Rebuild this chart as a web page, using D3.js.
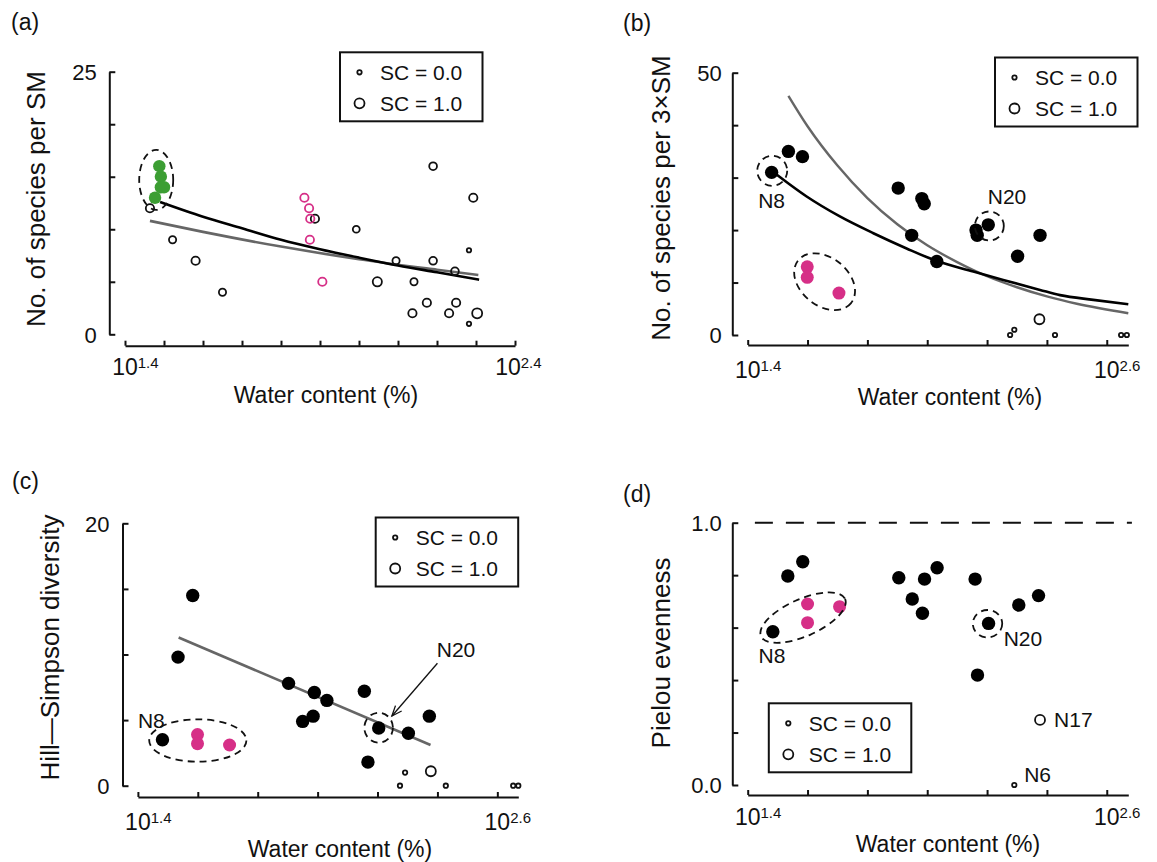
<!DOCTYPE html>
<html><head><meta charset="utf-8">
<script src="https://cdn.jsdelivr.net/npm/d3@7"></script>
<style>
body{margin:0;background:#fff}
svg{display:block}
text{font-family:"Liberation Sans",Arial,Helvetica,sans-serif;fill:#111}
</style>
</head><body>
<script>
// ---------------- DATA ----------------
// x values are log10(water content %)
const xTicksA = [1.4,1.5,1.6,1.7,1.8,1.9,2.0,2.1,2.2,2.3,2.4];
const xTickLabelsA = ["1.4","2.4"];
const xTicksBCD = [1.4,1.6,1.8,2.0,2.2,2.4,2.6];
const xTickLabelsBCD = ["1.4","2.6"];
const yTicksA = [0,5,10,15,20,25];   const yTickLabelsA = ["0","25"];
const yTicksB = [0,10,20,30,40,50];  const yTickLabelsB = ["0","50"];
const yTicksC = [0,5,10,15,20];      const yTickLabelsC = ["0","20"];
const yTicksD = [0,0.2,0.4,0.6,0.8,1.0]; const yTickLabelsD = ["0.0","1.0"];
const legendLabels = ["SC = 0.0","SC = 1.0"];
const legendSC = [0,1];

// Panel (a)
const aOpenX  = [1.464,1.522,1.581,1.650,1.887,1.993,2.047,2.095,2.141,2.137,2.174,2.190,2.190,2.231,2.246,2.249,2.282,2.282,2.293,2.303];
const aOpenY  = [12,9,7,4,11,10,5,7,5,2,3,16,7,2,6,3,8,1,13,2];
const aOpenSC = [0.7,0.5,0.7,0.5,0.7,0.45,0.85,0.5,0.5,0.7,0.7,0.6,0.6,0.7,0.6,0.7,0,0,0.7,1.0];
const aPinkX  = [1.860,1.872,1.875,1.874,1.906];
const aPinkY  = [13,12,11,9,5];
const aPinkSC = [0.7,0.7,0.7,0.7,0.7];
const aGreenX = [1.488,1.492,1.492,1.500,1.477];
const aGreenY = [16,15,14,14,13];
const aFitBlackX = [1.490,1.6,1.7,1.8,1.9,2.0,2.1,2.2,2.308];
const aFitBlackY = [12.6,11.2,10.1,9.0,8.1,7.3,6.55,5.9,5.2];
const aFitGrayX  = [1.464,1.6,1.8,2.0,2.2,2.306];
const aFitGrayY  = [10.8,9.75,8.35,7.15,6.15,5.65];

// Panel (b)
const bBlackX = [1.480,1.536,1.583,1.903,1.982,1.990,1.948,2.032,2.163,2.167,2.204,2.302,2.377];
const bBlackY = [31,35,34,28,26,25,19,14,20,19,21,15,19];
const bPinkX  = [1.599,1.599,1.705];
const bPinkY  = [13,11,8];
const bOpenX  = [2.277,2.291,2.375,2.427,2.648,2.667];
const bOpenY  = [0,1,3,0,0,0];
const bOpenSC = [0,0,1,0,0,0];
const bFitBlackX = [1.480,1.597,1.708,1.820,1.931,2.032,2.154,2.254,2.377,2.444,2.555,2.672];
const bFitBlackY = [31.3,26.4,22.6,19.4,16.5,14.1,12.1,10.5,8.6,7.6,6.7,5.85];
const bFitGrayX  = [1.536,1.6,1.7,1.8,1.9,2.0,2.1,2.2,2.3,2.4,2.5,2.672];
const bFitGrayY  = [45.6,39.8,32.3,26.1,21.1,17.1,13.9,11.2,9.1,7.35,5.95,4.15];

// Panel (c)
const cBlackX = [1.583,1.534,1.482,1.903,1.989,2.031,1.950,1.985,2.156,2.168,2.204,2.303,2.373];
const cBlackY = [14.5,9.8,3.5,7.8,7.1,6.5,4.9,5.3,7.2,1.8,4.4,4.0,5.3];
const cPinkX  = [1.599,1.599,1.706];
const cPinkY  = [3.9,3.2,3.1];
const cOpenX  = [2.275,2.292,2.378,2.428,2.653,2.670];
const cOpenY  = [0,1,1.1,0,0,0];
const cOpenSC = [0,0,1,0,0,0];
const cFitX = [1.536,2.377];
const cFitY = [11.3,3.1];

// Panel (d)
const dBlackX = [1.484,1.534,1.584,1.905,1.950,1.991,1.984,2.033,2.160,2.168,2.205,2.306,2.372];
const dBlackY = [0.584,0.797,0.851,0.790,0.709,0.785,0.655,0.828,0.785,0.419,0.616,0.686,0.722];
const dPinkX  = [1.600,1.600,1.707];
const dPinkY  = [0.690,0.619,0.680];
const dOpenX  = [2.377,2.291];
const dOpenY  = [0.248,0.0];
const dOpenSC = [1,0];
const dRefLineX = [1.424,2.684];
const dRefLineY = [1.0,1.0];

// ---------------- STYLE / LAYOUT ----------------
const FONT = '"Liberation Sans", Arial, Helvetica, sans-serif';
const PINK = "#d62f87", GREEN = "#3c9e33", GRAY = "#666666";
const rSC = d3.scaleLinear().domain([0,1]).range([2.2,5.0]);

const svg = d3.select("body").append("svg").attr("width",1157).attr("height",862);

const layouts = {
  a:{xDom:[1.4,2.4],xRange:[125,515],yDom:[0,25],yRange:[334.3,71.7],yAxisX:109.3,xAxisY:345.7,
     xTicks:xTicksA,xLabVals:[1.4,2.4],xLabs:xTickLabelsA,xLabShift:[0,-7],xLabDy:29,
     yTicks:yTicksA,yLabVals:[0,25],yLabs:yTickLabelsA,yPad:12.6,
     yTitle:"No. of species per SM",yTitleX:45,yTitleY:199,xTitleX:326,xTitleY:403,
     tag:"(a)",tagX:11,tagY:30,legX:340,legY:52.3},
  b:{xDom:[1.4,2.672],xRange:[747.7,1128.3],yDom:[0,50],yRange:[335,72.7],yAxisX:732.3,xAxisY:345,
     xTicks:xTicksBCD,xLabVals:[1.4,2.6],xLabs:xTickLabelsBCD,xLabShift:[0,0],xLabDy:33,
     yTicks:yTicksB,yLabVals:[0,50],yLabs:yTickLabelsB,yPad:10.5,
     yTitle:"No. of species per 3×SM",yTitleX:670,yTitleY:198,xTitleX:950,xTitleY:405,
     tag:"(b)",tagX:623,tagY:31,legX:995,legY:57.5},
  c:{xDom:[1.4,2.670],xRange:[137.9,518.3],yDom:[0,20],yRange:[785.7,523.3],yAxisX:122.5,xAxisY:797,
     xTicks:xTicksBCD,xLabVals:[1.4,2.6],xLabs:xTickLabelsBCD,xLabShift:[0,0],xLabDy:33,
     yTicks:yTicksC,yLabVals:[0,20],yLabs:yTickLabelsC,yPad:13,
     yTitle:"Hill\u2014Simpson diversity",yTitleX:59,yTitleY:647.5,xTitleX:340,xTitleY:857,
     tag:"(c)",tagX:12,tagY:489,legX:375.7,legY:517.5},
  d:{xDom:[1.4,2.672],xRange:[747.7,1128.3],yDom:[0,1],yRange:[785,522.7],yAxisX:732.3,xAxisY:795,
     xTicks:xTicksBCD,xLabVals:[1.4,2.6],xLabs:xTickLabelsBCD,xLabShift:[0,0],xLabDy:30,
     yTicks:yTicksD,yLabVals:[0,1],yLabs:yTickLabelsD,yPad:10.5,
     yTitle:"Pielou evenness",yTitleX:670,yTitleY:653,xTitleX:948,xTitleY:852,
     tag:"(d)",tagX:623,tagY:502,legX:768.8,legY:703.3}
};

function panel(L){
  const x = d3.scaleLinear().domain(L.xDom).range(L.xRange);
  const y = d3.scaleLinear().domain(L.yDom).range(L.yRange);
  const g = svg.append("g");
  // y axis
  const ya = g.append("g").attr("transform",`translate(${L.yAxisX},0)`)
    .call(d3.axisLeft(y).tickValues(L.yTicks).tickSizeInner(-6).tickSizeOuter(0).tickPadding(L.yPad)
      .tickFormat(d=>{const i=L.yLabVals.findIndex(v=>Math.abs(v-d)<1e-9);return i>=0?L.yLabs[i]:"";}));
  ya.attr("font-family",FONT).attr("font-size",22);
  ya.selectAll("line,path").attr("stroke","#111").attr("stroke-width",2);
  ya.selectAll("text").attr("fill","#111").attr("dy","0.35em");
  // x axis
  const xa = g.append("g").attr("transform",`translate(0,${L.xAxisY})`)
    .call(d3.axisBottom(x).tickValues(L.xTicks).tickSizeInner(-5).tickSizeOuter(0).tickFormat(""));
  xa.selectAll("line,path").attr("stroke","#111").attr("stroke-width",2);
  L.xLabVals.forEach((v,i)=>{
    const t = g.append("text").attr("x",x(v)-12.8+L.xLabShift[i]).attr("y",L.xAxisY+L.xLabDy).attr("font-size",23);
    t.append("tspan").text("10");
    t.append("tspan").attr("dy",-7).attr("font-size",15).text(L.xLabs[i]);
  });
  // titles
  g.append("text").attr("transform",`translate(${L.yTitleX},${L.yTitleY}) rotate(-90)`)
    .attr("text-anchor","middle").attr("font-size",26).text(L.yTitle);
  g.append("text").attr("x",L.xTitleX).attr("y",L.xTitleY).attr("text-anchor","middle")
    .attr("font-size",23).text("Water content (%)");
  g.append("text").attr("x",L.tagX).attr("y",L.tagY).attr("font-size",23).text(L.tag);
  // legend
  const lg = g.append("g").attr("transform",`translate(${L.legX},${L.legY})`);
  lg.append("rect").attr("width",142.5).attr("height",69).attr("fill","#fff").attr("stroke","#111").attr("stroke-width",2);
  legendSC.forEach((sc,i)=>{
    lg.append("circle").attr("cx",19.5).attr("cy",20+i*31).attr("r",rSC(sc))
      .attr("fill","none").attr("stroke","#111").attr("stroke-width",1.8);
    lg.append("text").attr("x",40).attr("y",27.8+i*30.5).attr("font-size",21).text(legendLabels[i]);
  });
  return {g,x,y};
}

function fitLine(P, xs, ys, color, width){
  const line = d3.line().x(d=>P.x(d[0])).y(d=>P.y(d[1])).curve(d3.curveMonotoneX);
  P.g.append("path").datum(d3.zip(xs,ys)).attr("d",line).attr("fill","none")
    .attr("stroke",color).attr("stroke-width",width).attr("stroke-linecap","butt");
}
function filled(P, xs, ys, color, r){
  P.g.append("g").selectAll("circle").data(d3.zip(xs,ys)).join("circle")
    .attr("cx",d=>P.x(d[0])).attr("cy",d=>P.y(d[1])).attr("r",r).attr("fill",color);
}
function open(P, xs, ys, scs, color){
  P.g.append("g").selectAll("circle").data(d3.zip(xs,ys,scs)).join("circle")
    .attr("cx",d=>P.x(d[0])).attr("cy",d=>P.y(d[1])).attr("r",d=>rSC(d[2]))
    .attr("fill","none").attr("stroke",color).attr("stroke-width",1.8);
}
function dashedEllipse(P, cx, cy, rx, ry, rot){
  P.g.append("ellipse").attr("transform",`translate(${P.x(cx)},${P.y(cy)}) rotate(${rot})`)
    .attr("rx",rx).attr("ry",ry).attr("fill","none").attr("stroke","#111")
    .attr("stroke-width",1.8).attr("stroke-dasharray","7,5");
}
function label(P, xv, yv, txt, anchor){
  P.g.append("text").attr("x",P.x(xv)).attr("y",P.y(yv)).attr("text-anchor",anchor||"middle")
    .attr("font-size",21).text(txt);
}

// ----- Panel (a)
const A = panel(layouts.a);
fitLine(A, aFitGrayX, aFitGrayY, GRAY, 2.6);
fitLine(A, aFitBlackX, aFitBlackY, "#000", 2.6);
open(A, aOpenX, aOpenY, aOpenSC, "#111");
open(A, aPinkX, aPinkY, aPinkSC, PINK);
filled(A, aGreenX, aGreenY, GREEN, 6.2);
dashedEllipse(A, 1.480, 14.7, 17, 30, 0);

// ----- Panel (b)
const B = panel(layouts.b);
fitLine(B, bFitGrayX, bFitGrayY, GRAY, 2.4);
fitLine(B, bFitBlackX, bFitBlackY, "#000", 2.6);
filled(B, bBlackX, bBlackY, "#000", 6.7);
filled(B, bPinkX, bPinkY, PINK, 6.5);
open(B, bOpenX, bOpenY, bOpenSC, "#111");
dashedEllipse(B, 1.482, 31.3, 15, 15, 0);
dashedEllipse(B, 2.2075, 20.78, 14.5, 14.5, 0);
dashedEllipse(B, 1.657, 10.16, 34, 24, 39);
label(B, 1.480, 24.16, "N8");
label(B, 2.2666, 24.98, "N20");

// ----- Panel (c)
const C = panel(layouts.c);
fitLine(C, cFitX, cFitY, GRAY, 2.6);
filled(C, cBlackX, cBlackY, "#000", 6.7);
filled(C, cPinkX, cPinkY, PINK, 6.5);
open(C, cOpenX, cOpenY, cOpenSC, "#111");
dashedEllipse(C, 1.600, 3.445, 48.6, 21.2, 0);
dashedEllipse(C, 2.2037, 4.42, 14.3, 15, 0);
label(C, 1.445, 4.375, "N8");
label(C, 2.462, 9.83, "N20");
// arrow from N20 label to circled point
{
  const x1=C.x(2.400), y1=C.y(9.33), x2=C.x(2.248), y2=C.y(5.31);
  C.g.append("line").attr("x1",x1).attr("y1",y1).attr("x2",x2).attr("y2",y2)
    .attr("stroke","#111").attr("stroke-width",1.3);
  const ang = Math.atan2(y2-y1,x2-x1), len=11, spread=0.38;
  const p = [[x2-len*Math.cos(ang-spread),y2-len*Math.sin(ang-spread)],[x2,y2],[x2-len*Math.cos(ang+spread),y2-len*Math.sin(ang+spread)]];
  C.g.append("path").attr("d",d3.line()(p)).attr("fill","none").attr("stroke","#111").attr("stroke-width",1.3);
}

// ----- Panel (d)
const D = panel(layouts.d);
D.g.append("path").datum(d3.zip(dRefLineX,dRefLineY))
  .attr("d",d3.line().x(d=>D.x(d[0])).y(d=>D.y(d[1]))).attr("fill","none")
  .attr("stroke","#111").attr("stroke-width",2).attr("stroke-dasharray","18,13");
filled(D, dBlackX, dBlackY, "#000", 6.7);
filled(D, dPinkX, dPinkY, PINK, 6.5);
open(D, dOpenX, dOpenY, dOpenSC, "#111");
dashedEllipse(D, 1.585, 0.638, 46, 18.5, -24);
dashedEllipse(D, 2.2015, 0.615, 14.7, 13.7, 0);
label(D, 1.481, 0.466, "N8");
label(D, 2.320, 0.531, "N20");
label(D, 2.424, 0.22, "N17", "start");
label(D, 2.324, 0.0103, "N6", "start");
</script>
</body></html>
